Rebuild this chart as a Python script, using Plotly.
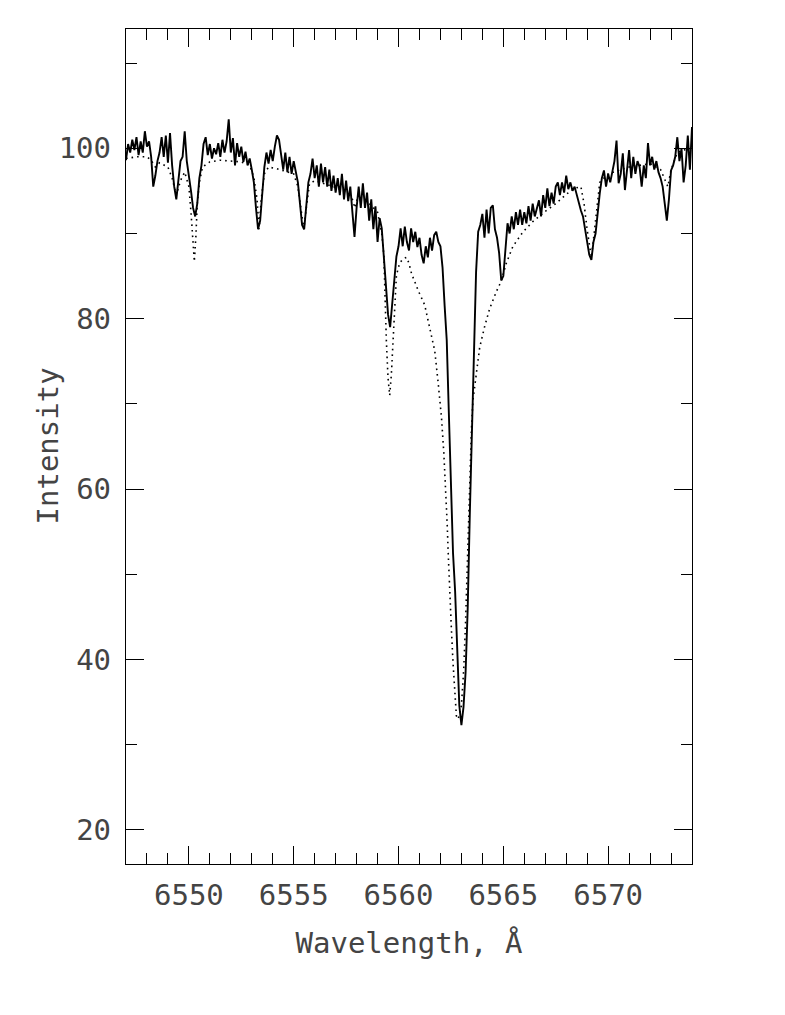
import plotly.graph_objects as go

# Observed spectrum (solid), sampled every 0.1 A from 6547.0 A
obs_start = 6547.0
obs_step = 0.1
obs_flux = [
    98.6, 100.5, 99.5, 101.0, 99.8, 101.3, 99.2, 100.8, 99.5, 102.0,   # 6547.0-6547.9
    100.2, 100.8, 99.0, 95.5, 96.8, 98.5, 99.5, 101.3, 99.0, 101.5,    # 6548.0-6548.9
    98.3, 101.8, 98.0, 95.5, 94.0, 96.5, 98.5, 99.0, 102.0, 98.5,      # 6549.0-6549.9
    97.0, 95.0, 93.0, 92.0, 93.5, 96.5, 98.0, 100.5, 101.3, 99.2,      # 6550.0-6550.9
    100.5, 98.8, 100.0, 99.3, 100.6, 99.0, 101.0, 99.5, 100.8, 103.4,  # 6551.0-6551.9
    99.5, 101.2, 98.0, 100.6, 99.0, 100.2, 98.4, 99.6, 98.0, 98.8,     # 6552.0-6552.9
    97.5, 96.0, 93.0, 90.5, 91.5, 95.0, 97.8, 99.5, 98.2, 99.8,        # 6553.0-6553.9
    98.5, 100.2, 101.5, 101.0, 99.0, 97.5, 99.5, 97.2, 99.0, 97.0,     # 6554.0-6554.9
    98.5, 97.0, 96.0, 93.5, 91.0, 90.5, 93.0, 96.0, 97.0, 98.8,        # 6555.0-6555.9
    96.5, 98.0, 95.5, 98.2, 96.0, 97.8, 95.5, 97.5, 95.0, 96.8,        # 6556.0-6556.9
    94.8, 96.5, 94.5, 97.0, 94.0, 96.2, 93.8, 95.5, 92.5, 89.6,        # 6557.0-6557.9
    93.0, 95.5, 93.0, 95.9, 93.0, 94.8, 91.5, 94.0, 90.5, 93.2,        # 6558.0-6558.9
    89.0, 91.8, 90.6, 87.0, 83.0, 80.5, 79.0, 82.0, 84.5, 87.3,        # 6559.0-6559.9
    88.5, 90.6, 88.5, 90.8, 89.0, 88.0, 90.6, 89.0, 90.2, 88.4,        # 6560.0-6560.9
    89.5, 87.5, 86.5, 88.5, 87.2, 89.5, 88.0, 89.8, 90.2, 89.0,        # 6561.0-6561.9
    88.5, 86.0, 81.5, 77.5, 69.0, 60.0, 52.5, 48.0, 40.0, 34.6,        # 6562.0-6562.9
    32.3, 34.4, 38.5, 46.0, 57.0, 66.5, 75.0, 85.5, 90.2, 91.0,        # 6563.0-6563.9
    92.3, 89.5, 92.8, 90.0, 93.0, 93.3, 90.5, 89.5, 87.7, 84.5,        # 6564.0-6564.9
    85.0, 88.0, 91.2, 90.0, 92.0, 90.5, 92.5, 91.0, 92.8, 91.0,        # 6565.0-6565.9
    92.5, 91.2, 93.2, 91.5, 93.5, 92.0, 93.0, 93.9, 92.0, 94.5,        # 6566.0-6566.9
    93.0, 95.3, 93.2, 94.8, 93.5, 95.5, 96.0, 94.5, 96.0, 94.8,        # 6567.0-6567.9
    96.8, 95.2, 96.0, 95.0, 95.5, 94.5, 93.5, 92.7, 92.0, 90.5,        # 6568.0-6568.9
    89.0, 87.5, 86.9, 89.0, 90.0, 92.5, 94.7, 96.5, 97.4, 95.5,        # 6569.0-6569.9
    97.0, 96.0, 97.5, 98.5, 100.9, 95.9, 97.0, 99.4, 95.1, 97.5,       # 6570.0-6570.9
    99.8, 96.5, 99.0, 97.0, 98.5, 97.8, 95.5, 98.0, 96.5, 100.6,       # 6571.0-6571.9
    98.0, 99.0, 97.5, 98.5, 97.2, 96.5, 95.5, 93.5, 91.5, 94.0,        # 6572.0-6572.9
    97.4, 98.0, 99.0, 101.3, 98.5, 100.0, 96.0, 98.0, 101.5, 97.5,     # 6573.0-6573.9
    102.5,                                                             # 6574.0
]
obs_wave = [round(obs_start + obs_step * i, 2) for i in range(len(obs_flux))]

# Synthetic spectrum (dotted)
model_wave = [
    6547.0, 6547.5, 6548.0, 6548.2, 6548.4, 6548.6, 6549.0, 6549.2, 6549.4, 6549.6,
    6549.8, 6550.0, 6550.1, 6550.18, 6550.26, 6550.33, 6550.4, 6550.5, 6550.65, 6551.0,
    6551.5, 6552.0, 6552.5, 6552.9, 6553.1, 6553.25, 6553.35, 6553.45, 6553.6, 6553.8,
    6554.2, 6554.6, 6555.0, 6555.2, 6555.35, 6555.48, 6555.6, 6555.75, 6556.0, 6556.5,
    6557.0, 6557.5, 6557.8, 6557.92, 6558.05, 6558.5, 6559.0, 6559.2, 6559.3, 6559.42,
    6559.5, 6559.58, 6559.66, 6559.74, 6559.82, 6559.9, 6560.05, 6560.2, 6560.38, 6560.5,
    6560.62, 6560.94, 6561.25, 6561.49, 6561.73, 6561.89, 6562.05, 6562.16, 6562.25, 6562.32,
    6562.38, 6562.44, 6562.52, 6562.6, 6562.68, 6562.76, 6562.84, 6562.92, 6563.0, 6563.11,
    6563.2, 6563.27, 6563.33, 6563.4, 6563.48, 6563.55, 6563.72, 6563.87, 6564.11, 6564.35,
    6564.67, 6564.9, 6565.14, 6565.46, 6565.94, 6566.41, 6567.0, 6567.5, 6568.0, 6568.4,
    6568.7, 6568.85, 6569.0, 6569.2, 6569.35, 6569.5, 6569.6, 6570.0, 6570.5, 6571.0,
    6571.5, 6572.0, 6572.5, 6572.75, 6572.85, 6573.0, 6573.3, 6573.6, 6574.0,
]
model_flux = [
    98.8, 99.0, 99.0, 98.6, 97.8, 98.3, 97.8, 96.5, 94.5, 96.2,
    97.2, 95.5, 92.5, 89.0, 86.7, 89.5, 93.5, 96.0, 97.8, 98.4,
    98.6, 98.5, 98.4, 98.0, 96.6, 94.0, 90.5, 94.0, 97.0, 97.8,
    97.6, 97.3, 97.0, 95.5, 92.5, 90.5, 93.0, 95.8, 96.2, 95.8,
    95.4, 94.8, 94.0, 93.0, 94.2, 93.8, 92.5, 90.0, 87.5, 77.4,
    73.0, 71.0, 73.5, 77.4, 81.6, 85.1, 86.5, 87.0, 87.2, 86.5,
    85.3, 83.3, 81.6, 78.7, 76.2, 72.5, 68.4, 64.3, 60.2, 56.0,
    51.9, 47.8, 43.7, 39.6, 36.3, 33.4, 33.0, 33.6, 34.6, 38.8,
    44.5, 50.7, 56.9, 61.8, 67.1, 70.4, 74.1, 76.6, 79.1, 81.2,
    83.2, 84.4, 86.5, 88.5, 90.2, 91.4, 92.6, 93.5, 94.6, 95.3,
    95.5, 93.5, 90.4, 87.2, 90.4, 93.9, 96.0, 97.0, 97.4, 97.8,
    98.0, 98.2, 97.5, 96.0, 95.5, 97.5, 99.5, 99.8, 100.0,
]

x_ticks = [6550, 6555, 6560, 6565, 6570]
y_ticks = [20, 40, 60, 80, 100]

FONT = "DejaVu Sans Mono"
TXT = "#444444"

fig = go.Figure()
fig.add_trace(go.Scatter(
    x=model_wave, y=model_flux, mode="lines",
    line=dict(color="black", width=1.6, dash="1.6px,4px"),
    hoverinfo="skip", showlegend=False,
))
fig.add_trace(go.Scatter(
    x=obs_wave, y=obs_flux, mode="lines",
    line=dict(color="black", width=1.9),
    showlegend=False,
))

axis_common = dict(
    showline=True, linecolor="black", linewidth=1.3,
    ticks="inside", tickcolor="black", tickwidth=1.2, ticklen=18,
    mirror="allticks", showgrid=False, zeroline=False,
    tickfont=dict(family=FONT, size=29, color=TXT),
)

fig.update_layout(
    width=777, height=1007,
    margin=dict(l=118, r=93, t=21, b=151),
    paper_bgcolor="white", plot_bgcolor="white",
    xaxis=dict(
        range=[6547, 6574], tickvals=x_ticks,
        ticktext=[str(v) for v in x_ticks],
        minor=dict(ticks="inside", dtick=1, tick0=6550, ticklen=11,
                   tickcolor="black", tickwidth=1.2, showgrid=False),
        ticklabelstandoff=5,
        title=dict(text="Wavelength, Å", font=dict(family=FONT, size=29, color=TXT), standoff=21),
        **axis_common,
    ),
    yaxis=dict(
        range=[16, 114], tickvals=y_ticks,
        ticktext=[str(v) for v in y_ticks],
        minor=dict(ticks="inside", dtick=10, tick0=10, ticklen=11,
                   tickcolor="black", tickwidth=1.2, showgrid=False),
        ticklabelstandoff=8,
        **axis_common,
    ),
    annotations=[dict(
        text="Intensity", xref="paper", yref="paper", x=0, y=0.5,
        xanchor="center", yanchor="middle", xshift=-79, textangle=-90,
        showarrow=False, font=dict(family=FONT, size=29, color=TXT),
    )],
)

fig.write_html("out.html")
